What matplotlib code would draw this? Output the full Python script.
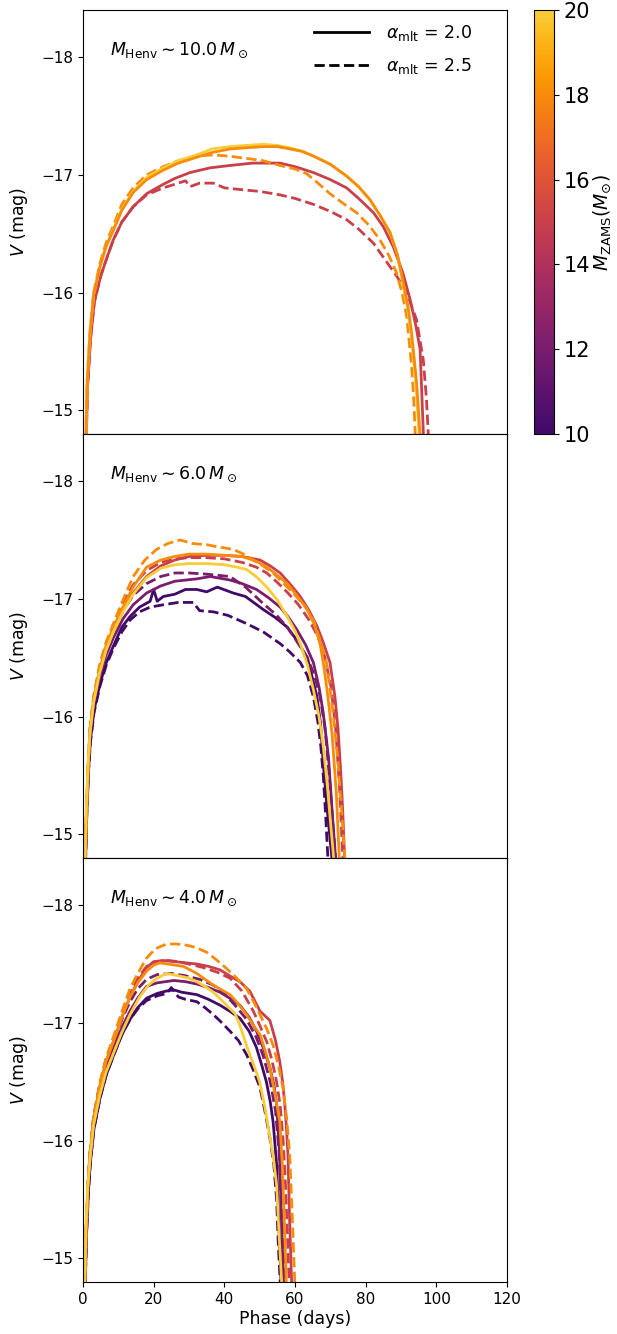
import numpy as np
import matplotlib
matplotlib.use("Agg")
import matplotlib.pyplot as plt
from matplotlib.colors import LinearSegmentedColormap, Normalize
from matplotlib.cm import ScalarMappable
from matplotlib.lines import Line2D

# ---- data ----
envelope_masses = [10.0, 6.0, 4.0]

# panel 1: M_Henv ~ 10
p1_m15_solid_t = [0.9, 1.3, 2.1, 3.2, 5.0, 6.8, 8.6, 11.0, 14.2, 18.0, 22.7, 26.0, 30.3, 36.0, 41.6, 48.0, 55.8, 60.0, 65.2, 70.0, 74.6, 78.0, 82.2, 85.0, 87.8, 90.5, 92.6, 94.2, 95.4, 96.4]
p1_m15_solid_v = [-14.75, -15.2, -15.6, -15.92, -16.14, -16.3, -16.45, -16.6, -16.73, -16.84, -16.92, -16.97, -17.02, -17.06, -17.08, -17.10, -17.10, -17.07, -17.02, -16.96, -16.89, -16.80, -16.68, -16.56, -16.39, -16.17, -15.94, -15.72, -15.52, -14.75]
p1_m15_dash_t = [0.9, 1.3, 2.1, 3.2, 5.0, 6.8, 8.6, 11.0, 14.2, 18.0, 22.7, 26.0, 29.0, 30.3, 33.0, 36.9, 40.0, 46.3, 50.0, 55.8, 60.0, 65.2, 70.0, 74.6, 78.0, 82.2, 86.9, 89.0, 91.6, 94.4, 96.3, 97.2, 97.8]
p1_m15_dash_v = [-14.75, -15.2, -15.6, -15.92, -16.14, -16.3, -16.45, -16.6, -16.73, -16.83, -16.89, -16.92, -16.95, -16.90, -16.93, -16.93, -16.89, -16.87, -16.86, -16.83, -16.80, -16.75, -16.69, -16.62, -16.54, -16.42, -16.22, -16.13, -16.0, -15.77, -15.43, -15.1, -14.75]
p1_m18_solid_t = [0.8, 1.2, 2.0, 3.0, 4.8, 6.5, 8.6, 11.0, 14.2, 18.0, 22.7, 27.0, 32.2, 36.5, 41.6, 46.0, 51.0, 55.0, 58.6, 62.0, 65.2, 70.0, 74.6, 78.0, 81.2, 84.0, 86.9, 89.0, 90.7, 92.0, 93.0, 94.4, 95.5]
p1_m18_solid_v = [-14.75, -15.25, -15.66, -15.98, -16.22, -16.39, -16.53, -16.70, -16.85, -16.96, -17.04, -17.10, -17.15, -17.19, -17.22, -17.23, -17.24, -17.24, -17.22, -17.20, -17.16, -17.09, -16.99, -16.90, -16.79, -16.66, -16.51, -16.32, -16.08, -15.88, -15.66, -15.24, -14.75]
p1_m18_dash_t = [0.8, 1.2, 2.0, 3.0, 4.8, 6.5, 8.6, 11.0, 14.2, 18.0, 22.7, 27.0, 32.0, 36.9, 41.0, 46.3, 51.0, 55.8, 60.0, 63.3, 66.5, 69.9, 74.0, 77.4, 81.0, 84.0, 86.5, 88.7, 90.3, 91.6, 93.0, 93.6, 94.1]
p1_m18_dash_v = [-14.75, -15.27, -15.68, -16.0, -16.25, -16.42, -16.57, -16.75, -16.89, -17.0, -17.07, -17.12, -17.16, -17.17, -17.16, -17.14, -17.12, -17.08, -17.05, -17.01, -16.93, -16.84, -16.75, -16.68, -16.57, -16.45, -16.32, -16.17, -16.0, -15.80, -15.38, -15.1, -14.75]
p1_m20_solid_t = [0.8, 1.2, 2.0, 3.0, 4.8, 6.5, 8.6, 11.0, 14.2, 18.0, 22.7, 27.0, 32.2, 36.5, 41.6, 46.0, 51.0, 55.0, 58.6, 62.0, 65.2, 70.0, 74.6, 78.0, 81.2, 84.0, 86.9, 89.0, 90.5, 91.8, 92.8, 94.2, 95.2]
p1_m20_solid_v = [-14.75, -15.25, -15.66, -15.98, -16.22, -16.39, -16.54, -16.71, -16.86, -16.98, -17.06, -17.12, -17.17, -17.22, -17.24, -17.25, -17.26, -17.25, -17.23, -17.20, -17.16, -17.09, -16.99, -16.90, -16.79, -16.66, -16.51, -16.32, -16.08, -15.88, -15.66, -15.24, -14.75]

# panel 2: M_Henv ~ 6
p2_m10_solid_t = [0.7, 1.1, 1.6, 2.1, 3.1, 4.8, 6.6, 8.6, 11.0, 13.3, 16.0, 19.0, 20.0, 21.0, 22.7, 26.0, 29.0, 32.2, 35.0, 38.0, 42.5, 46.0, 51.0, 54.5, 57.8, 60.5, 63.5, 66.2, 67.2, 68.0, 69.0, 69.8, 70.6]
p2_m10_solid_v = [-14.75, -15.2, -15.56, -15.8, -16.05, -16.28, -16.46, -16.6, -16.76, -16.85, -16.93, -16.98, -17.08, -16.98, -17.02, -17.04, -17.08, -17.08, -17.06, -17.10, -17.05, -17.02, -16.91, -16.84, -16.76, -16.65, -16.50, -16.17, -15.95, -15.60, -15.25, -15.0, -14.75]
p2_m10_dash_t = [0.7, 1.1, 1.6, 2.1, 3.1, 4.8, 6.6, 8.6, 11.0, 13.3, 16.0, 19.0, 22.7, 27.0, 31.2, 33.0, 36.9, 41.0, 46.3, 51.0, 55.8, 58.5, 61.5, 63.5, 65.2, 66.5, 67.3, 68.0, 68.7, 69.4]
p2_m10_dash_v = [-14.75, -15.2, -15.55, -15.78, -16.03, -16.26, -16.44, -16.58, -16.72, -16.82, -16.89, -16.93, -16.95, -16.97, -16.97, -16.90, -16.89, -16.86, -16.79, -16.72, -16.62, -16.55, -16.46, -16.35, -16.17, -15.95, -15.75, -15.5, -15.15, -14.75]
p2_m12_solid_t = [0.6, 1.0, 1.5, 2.0, 3.0, 4.7, 6.5, 8.6, 11.3, 14.2, 18.0, 22.0, 26.0, 32.2, 36.0, 41.6, 45.0, 49.1, 52.5, 55.8, 58.0, 60.5, 63.0, 65.2, 66.8, 68.0, 69.5, 70.5, 71.6]
p2_m12_solid_v = [-14.75, -15.2, -15.58, -15.85, -16.1, -16.34, -16.52, -16.67, -16.83, -16.95, -17.05, -17.11, -17.15, -17.17, -17.19, -17.16, -17.13, -17.08, -17.01, -16.93, -16.85, -16.74, -16.61, -16.46, -16.25, -16.03, -15.65, -15.2, -14.75]
p2_m12_dash_t = [0.6, 1.0, 1.5, 2.0, 3.0, 4.7, 6.5, 8.6, 11.3, 14.2, 18.0, 22.0, 26.0, 30.0, 35.0, 41.6, 46.0, 51.0, 54.5, 57.8, 60.5, 63.5, 65.5, 67.1, 68.5, 69.7, 70.7, 71.6]
p2_m12_dash_v = [-14.75, -15.2, -15.6, -15.87, -16.13, -16.38, -16.57, -16.72, -16.90, -17.03, -17.13, -17.19, -17.22, -17.22, -17.21, -17.19, -17.10, -16.96, -16.87, -16.76, -16.64, -16.50, -16.35, -16.17, -15.9, -15.5, -15.1, -14.75]
p2_m15_solid_t = [0.6, 1.0, 1.5, 2.0, 3.0, 4.7, 6.5, 8.6, 11.3, 14.2, 18.0, 22.0, 26.0, 30.0, 35.0, 40.0, 45.0, 50.1, 53.0, 55.8, 58.5, 61.5, 64.0, 66.2, 68.0, 69.9, 71.3, 72.2, 73.0, 73.5, 74.1]
p2_m15_solid_v = [-14.75, -15.2, -15.6, -15.88, -16.13, -16.38, -16.57, -16.73, -16.90, -17.05, -17.19, -17.28, -17.33, -17.36, -17.37, -17.37, -17.36, -17.33, -17.28, -17.22, -17.13, -17.02, -16.90, -16.77, -16.63, -16.46, -16.17, -15.89, -15.5, -15.2, -14.75]
p2_m15_dash_t = [0.6, 1.0, 1.5, 2.0, 3.0, 4.7, 6.5, 8.6, 11.3, 14.2, 18.0, 22.0, 26.0, 30.0, 35.0, 40.0, 45.0, 49.0, 52.0, 55.0, 58.0, 61.0, 64.0, 66.5, 68.5, 70.2, 71.5, 72.6, 73.6]
p2_m15_dash_v = [-14.75, -15.22, -15.62, -15.9, -16.16, -16.42, -16.61, -16.78, -16.96, -17.12, -17.24, -17.31, -17.34, -17.35, -17.35, -17.34, -17.31, -17.27, -17.22, -17.14, -17.05, -16.95, -16.82, -16.68, -16.50, -16.25, -15.9, -15.4, -14.75]
p2_m18_solid_t = [0.6, 1.0, 1.5, 2.0, 3.0, 4.7, 6.5, 8.6, 11.3, 14.2, 18.0, 22.0, 26.0, 30.0, 35.0, 40.0, 45.0, 49.0, 52.1, 55.0, 57.8, 60.5, 63.5, 65.5, 67.1, 68.3, 69.3, 70.5, 71.7, 72.6]
p2_m18_solid_v = [-14.75, -15.2, -15.6, -15.89, -16.15, -16.40, -16.60, -16.76, -16.93, -17.10, -17.27, -17.33, -17.36, -17.38, -17.38, -17.37, -17.36, -17.32, -17.27, -17.20, -17.13, -17.03, -16.91, -16.78, -16.62, -16.40, -16.17, -15.85, -15.35, -14.75]
p2_m18_dash_t = [0.6, 1.0, 1.5, 2.0, 3.0, 4.7, 6.5, 8.6, 11.3, 14.2, 17.5, 20.8, 24.0, 27.5, 31.0, 35.0, 38.5, 42.5, 45.5, 48.2, 51.0, 53.8, 56.5, 59.5, 62.5, 65.2, 67.0, 68.9, 70.8, 72.2, 73.2, 74.2]
p2_m18_dash_v = [-14.75, -15.2, -15.6, -15.9, -16.17, -16.44, -16.63, -16.79, -16.99, -17.19, -17.33, -17.42, -17.47, -17.50, -17.47, -17.46, -17.44, -17.42, -17.38, -17.33, -17.28, -17.22, -17.14, -17.05, -16.95, -16.82, -16.66, -16.46, -16.03, -15.61, -15.2, -14.75]
p2_m20_solid_t = [0.5, 0.9, 1.4, 2.0, 3.0, 4.7, 6.5, 8.6, 11.3, 14.2, 18.0, 22.0, 26.0, 30.0, 35.0, 40.0, 43.5, 46.3, 49.0, 52.0, 55.0, 57.8, 60.0, 61.5, 63.5, 65.2, 66.8, 68.0, 69.2, 70.2, 71.1]
p2_m20_solid_v = [-14.75, -15.2, -15.6, -15.86, -16.12, -16.37, -16.56, -16.72, -16.89, -17.04, -17.18, -17.26, -17.29, -17.30, -17.30, -17.29, -17.27, -17.25, -17.19, -17.10, -16.99, -16.85, -16.73, -16.62, -16.44, -16.23, -16.0, -15.75, -15.4, -15.05, -14.75]

# panel 3: M_Henv ~ 4
p3_m10_solid_t = [0.6, 1.0, 1.5, 2.1, 3.1, 4.8, 6.6, 8.6, 11.0, 13.3, 15.5, 18.0, 21.0, 23.5, 25.7, 28.0, 32.2, 35.5, 38.8, 41.5, 44.4, 47.0, 49.1, 50.5, 51.9, 53.0, 53.8, 54.8, 55.4, 56.1]
p3_m10_solid_v = [-14.75, -15.2, -15.55, -15.82, -16.1, -16.36, -16.56, -16.72, -16.90, -17.03, -17.13, -17.21, -17.25, -17.27, -17.28, -17.26, -17.24, -17.20, -17.15, -17.10, -17.04, -16.93, -16.79, -16.65, -16.50, -16.33, -16.16, -15.8, -15.3, -14.75]
p3_m10_dash_t = [0.6, 1.0, 1.5, 2.1, 3.1, 4.8, 6.6, 8.6, 11.0, 13.3, 15.5, 18.0, 21.0, 23.7, 25.0, 27.0, 29.0, 32.2, 34.5, 36.9, 39.0, 41.6, 44.0, 46.3, 48.2, 50.1, 51.5, 52.9, 54.0, 54.8, 55.3, 55.9]
p3_m10_dash_v = [-14.75, -15.2, -15.55, -15.82, -16.1, -16.36, -16.56, -16.72, -16.90, -17.03, -17.12, -17.19, -17.23, -17.25, -17.30, -17.22, -17.20, -17.18, -17.13, -17.07, -17.01, -16.93, -16.85, -16.73, -16.60, -16.45, -16.25, -16.02, -15.8, -15.5, -15.1, -14.75]
p3_m12_solid_t = [0.5, 0.9, 1.4, 2.0, 3.0, 4.7, 6.5, 8.6, 11.3, 13.3, 15.5, 18.0, 21.0, 25.7, 29.0, 32.2, 35.5, 38.8, 41.5, 44.4, 47.0, 49.1, 51.0, 52.9, 54.0, 54.8, 55.6, 56.2, 56.8]
p3_m12_solid_v = [-14.75, -15.25, -15.6, -15.86, -16.15, -16.42, -16.63, -16.79, -16.98, -17.10, -17.21, -17.31, -17.34, -17.36, -17.35, -17.33, -17.30, -17.26, -17.21, -17.15, -17.05, -16.93, -16.79, -16.62, -16.48, -16.31, -15.9, -15.3, -14.75]
p3_m12_dash_t = [0.5, 0.9, 1.4, 2.0, 3.0, 4.7, 6.5, 8.6, 11.3, 13.3, 15.5, 18.0, 21.0, 25.0, 29.0, 33.0, 36.9, 40.0, 43.0, 46.3, 49.0, 51.0, 53.0, 54.5, 55.5, 56.3, 57.1]
p3_m12_dash_v = [-14.75, -15.25, -15.62, -15.9, -16.2, -16.47, -16.68, -16.84, -17.05, -17.18, -17.29, -17.37, -17.41, -17.42, -17.40, -17.37, -17.32, -17.25, -17.15, -17.03, -16.88, -16.72, -16.50, -16.25, -15.9, -15.35, -14.75]
p3_m15_solid_t = [0.5, 0.9, 1.4, 2.0, 3.0, 4.7, 6.5, 8.6, 11.3, 13.3, 15.5, 18.0, 20.0, 22.7, 26.0, 29.0, 32.2, 35.5, 38.8, 41.5, 44.4, 47.2, 50.1, 52.9, 54.5, 55.7, 56.5, 57.1, 57.6, 58.0, 58.5, 59.1]
p3_m15_solid_v = [-14.75, -15.25, -15.62, -15.88, -16.18, -16.45, -16.67, -16.84, -17.07, -17.22, -17.35, -17.47, -17.52, -17.53, -17.52, -17.51, -17.50, -17.48, -17.45, -17.40, -17.35, -17.27, -17.10, -17.02, -16.85, -16.67, -16.5, -16.31, -16.1, -15.88, -15.3, -14.75]
p3_m15_dash_t = [0.5, 0.9, 1.4, 2.0, 3.0, 4.7, 6.5, 8.6, 11.3, 13.3, 15.5, 18.0, 21.0, 24.0, 27.0, 30.0, 34.0, 38.0, 41.6, 45.0, 48.2, 50.0, 52.0, 53.5, 54.8, 55.8, 56.6, 57.2, 57.8, 58.4]
p3_m15_dash_v = [-14.75, -15.25, -15.62, -15.9, -16.2, -16.47, -16.69, -16.86, -17.10, -17.25, -17.38, -17.48, -17.52, -17.53, -17.52, -17.50, -17.47, -17.43, -17.38, -17.27, -17.10, -16.98, -16.84, -16.68, -16.50, -16.3, -16.02, -15.7, -15.25, -14.75]
p3_m18_solid_t = [0.5, 0.9, 1.4, 2.0, 3.0, 4.7, 6.5, 8.6, 11.3, 13.3, 15.5, 18.0, 20.0, 21.7, 24.0, 28.4, 32.2, 36.9, 41.6, 44.0, 46.3, 48.2, 50.1, 51.5, 52.9, 54.3, 55.7, 56.4, 57.0, 57.6]
p3_m18_solid_v = [-14.75, -15.25, -15.62, -15.88, -16.18, -16.45, -16.67, -16.84, -17.07, -17.22, -17.34, -17.44, -17.49, -17.51, -17.50, -17.48, -17.42, -17.32, -17.24, -17.16, -17.07, -16.98, -16.90, -16.77, -16.62, -16.40, -16.16, -15.8, -15.3, -14.75]
p3_m18_dash_t = [0.5, 0.9, 1.4, 2.0, 3.0, 4.7, 6.5, 8.6, 11.3, 13.3, 15.5, 18.0, 20.5, 23.7, 26.5, 29.3, 32.0, 35.0, 38.0, 40.7, 43.5, 46.3, 48.5, 50.1, 52.0, 53.8, 55.3, 56.6, 57.6, 58.5, 59.3, 60.0]
p3_m18_dash_v = [-14.75, -15.25, -15.62, -15.9, -16.2, -16.48, -16.70, -16.88, -17.12, -17.29, -17.42, -17.55, -17.63, -17.67, -17.67, -17.66, -17.64, -17.60, -17.53, -17.46, -17.38, -17.29, -17.17, -17.07, -16.95, -16.81, -16.64, -16.45, -16.2, -15.88, -15.3, -14.75]
p3_m20_solid_t = [0.4, 0.8, 1.3, 2.0, 3.0, 4.7, 6.5, 8.6, 11.0, 13.3, 16.0, 18.5, 21.0, 23.6, 27.0, 30.0, 32.2, 34.5, 36.9, 39.0, 41.6, 43.0, 44.4, 45.8, 47.2, 48.6, 50.0, 51.5, 52.9, 53.9, 54.8, 55.5, 56.3]
p3_m20_solid_v = [-14.75, -15.25, -15.6, -15.85, -16.13, -16.38, -16.58, -16.74, -16.92, -17.07, -17.22, -17.32, -17.38, -17.42, -17.40, -17.38, -17.35, -17.31, -17.26, -17.20, -17.12, -17.08, -16.98, -16.85, -16.73, -16.62, -16.50, -16.28, -16.03, -15.85, -15.62, -15.2, -14.75]

# (zams mass, alpha_mlt, t, V) per panel
panels = [
    [(15, 2.0, p1_m15_solid_t, p1_m15_solid_v), (15, 2.5, p1_m15_dash_t, p1_m15_dash_v),
     (18, 2.5, p1_m18_dash_t, p1_m18_dash_v), (20, 2.0, p1_m20_solid_t, p1_m20_solid_v),
     (18, 2.0, p1_m18_solid_t, p1_m18_solid_v)],
    [(10, 2.0, p2_m10_solid_t, p2_m10_solid_v), (10, 2.5, p2_m10_dash_t, p2_m10_dash_v),
     (12, 2.0, p2_m12_solid_t, p2_m12_solid_v), (12, 2.5, p2_m12_dash_t, p2_m12_dash_v),
     (15, 2.0, p2_m15_solid_t, p2_m15_solid_v), (15, 2.5, p2_m15_dash_t, p2_m15_dash_v),
     (18, 2.0, p2_m18_solid_t, p2_m18_solid_v), (18, 2.5, p2_m18_dash_t, p2_m18_dash_v),
     (20, 2.0, p2_m20_solid_t, p2_m20_solid_v)],
    [(10, 2.0, p3_m10_solid_t, p3_m10_solid_v), (10, 2.5, p3_m10_dash_t, p3_m10_dash_v),
     (12, 2.0, p3_m12_solid_t, p3_m12_solid_v), (12, 2.5, p3_m12_dash_t, p3_m12_dash_v),
     (15, 2.0, p3_m15_solid_t, p3_m15_solid_v), (15, 2.5, p3_m15_dash_t, p3_m15_dash_v),
     (18, 2.0, p3_m18_solid_t, p3_m18_solid_v), (18, 2.5, p3_m18_dash_t, p3_m18_dash_v),
     (20, 2.0, p3_m20_solid_t, p3_m20_solid_v)],
]

# truncated inferno
cmap = LinearSegmentedColormap.from_list(
    "inferno_cut", plt.cm.inferno(np.linspace(0.2, 0.88, 256)))
norm = Normalize(vmin=10, vmax=20)

W, H = 617, 1334
fig = plt.figure(figsize=(W / 100, H / 100), dpi=100)

axes = []
for i in range(3):
    top = 10 + i * 424
    ax = fig.add_axes([83 / W, (H - top - 424) / H, 424 / W, 424 / H],
                      sharex=axes[0] if axes else None)
    axes.append(ax)

for i, (ax, curves) in enumerate(zip(axes, panels)):
    for m, a, t, v in curves:
        ls = "-" if a == 2.0 else "--"
        ax.plot(t, v, ls=ls, lw=2, color=cmap(norm(m)))
    ax.set_xlim(0, 120)
    ax.set_ylim(-14.8, -18.4)
    ax.set_yticks([-18, -17, -16, -15])
    ax.tick_params(labelsize=11)
    ax.set_ylabel("$V$ (mag)", fontsize=12.5, labelpad=8)
    ax.text(0.064, 0.905, r"$M_{\rm Henv} \sim %.1f\,M_\odot$" % envelope_masses[i],
            transform=ax.transAxes, fontsize=12.5, ha="left", va="center")
    if i < 2:
        ax.tick_params(labelbottom=False)

axes[2].set_xticks([0, 20, 40, 60, 80, 100, 120])
axes[2].set_xlabel("Phase (days)", fontsize=12.5, labelpad=2)

handles = [Line2D([], [], color="k", lw=2, ls="-"),
           Line2D([], [], color="k", lw=2, ls="--")]
axes[0].legend(handles, [r"$\alpha_{\rm mlt}$ = 2.0", r"$\alpha_{\rm mlt}$ = 2.5"],
               loc="upper right", frameon=False, fontsize=12.5, handlelength=3.2,
               handletextpad=1.0, labelspacing=0.75, borderaxespad=0.0,
               bbox_to_anchor=(0.935, 0.985))

cax = fig.add_axes([534 / W, (H - 434) / H, 20 / W, 424 / H])
sm = ScalarMappable(norm=norm, cmap=cmap)
cb = fig.colorbar(sm, cax=cax)
cb.set_ticks([10, 12, 14, 16, 18, 20])
cb.ax.tick_params(labelsize=15)
cb.set_label(r"$M_{\rm ZAMS} (M_{\odot})$", fontsize=13.5, labelpad=1)

fig.savefig("out.png", dpi=100)
